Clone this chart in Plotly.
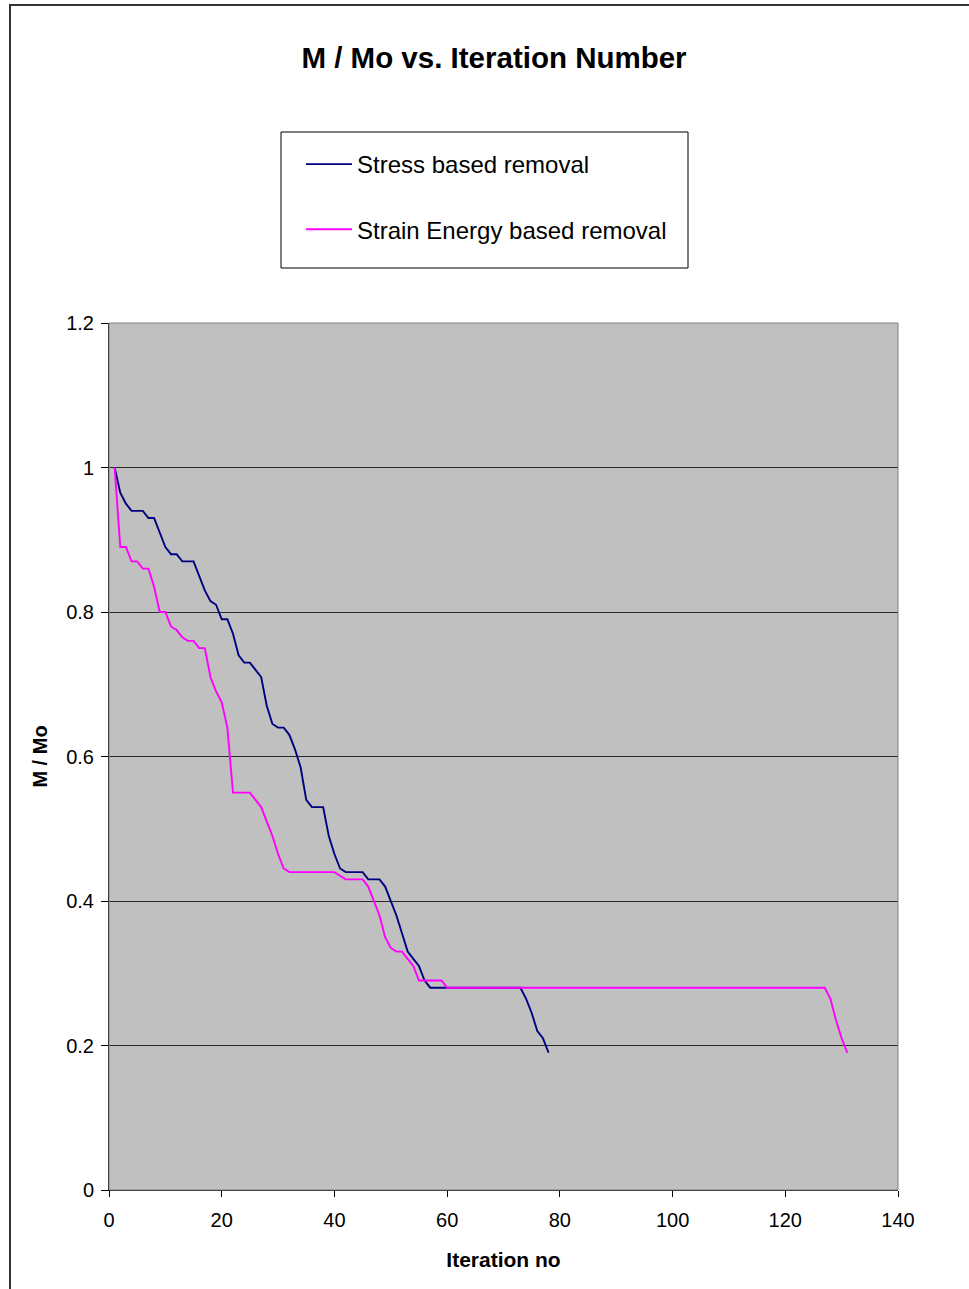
import plotly.graph_objects as go

iterations_stress = list(range(1, 79))
stress_values = [
    1.00, 0.965, 0.95, 0.94, 0.94, 0.94, 0.93, 0.93, 0.91, 0.89,
    0.88, 0.88, 0.87, 0.87, 0.87, 0.85, 0.83, 0.815, 0.81, 0.79,
    0.79, 0.77, 0.74, 0.73, 0.73, 0.72, 0.71, 0.67, 0.645, 0.64,
    0.64, 0.63, 0.61, 0.585, 0.54, 0.53, 0.53, 0.53, 0.49, 0.465,
    0.445, 0.44, 0.44, 0.44, 0.44, 0.43, 0.43, 0.43, 0.42, 0.40,
    0.38, 0.355, 0.33, 0.32, 0.31, 0.29, 0.28, 0.28, 0.28, 0.28,
    0.28, 0.28, 0.28, 0.28, 0.28, 0.28, 0.28, 0.28, 0.28, 0.28,
    0.28, 0.28, 0.28, 0.265, 0.245, 0.22, 0.21, 0.19,
]

iterations_strain = list(range(1, 132))
strain_values = (
    [1.00, 0.89, 0.89, 0.87, 0.87, 0.86, 0.86, 0.835, 0.80, 0.80,
     0.78, 0.775, 0.765, 0.76, 0.76, 0.75, 0.75, 0.71, 0.69, 0.675,
     0.64, 0.55, 0.55, 0.55, 0.55, 0.54, 0.53, 0.51, 0.49, 0.465,
     0.445, 0.44, 0.44, 0.44, 0.44, 0.44, 0.44, 0.44, 0.44, 0.44,
     0.435, 0.43, 0.43, 0.43, 0.43, 0.42, 0.40, 0.38, 0.35, 0.335,
     0.33, 0.33, 0.32, 0.31, 0.29, 0.29, 0.29, 0.29, 0.29]
    + [0.28] * 68
    + [0.265, 0.235, 0.21, 0.19]
)

x_ticks = [0, 20, 40, 60, 80, 100, 120, 140]
y_ticks = [0, 0.2, 0.4, 0.6, 0.8, 1.0, 1.2]
y_tick_text = ["0", "0.2", "0.4", "0.6", "0.8", "1", "1.2"]

W, H = 969, 1289
L, R, T, B = 109, 898, 323, 1190

def px(xp):
    return (xp - L) / (R - L)

def py(yp):
    return (B - yp) / (B - T)

fig = go.Figure()
fig.add_trace(go.Scatter(
    x=iterations_stress, y=stress_values, mode="lines",
    name="Stress based removal", legendgroup="a",
    line=dict(color="#000080", width=1.9),
))
fig.add_trace(go.Scatter(
    x=iterations_strain, y=strain_values, mode="lines",
    name="Strain Energy based removal", legendgroup="b",
    line=dict(color="#FF00FF", width=1.9),
))

font_main = "Arial, Liberation Sans, sans-serif"

fig.update_layout(
    width=W, height=H,
    margin=dict(l=L, r=W - R, t=T, b=H - B, pad=0),
    paper_bgcolor="white",
    plot_bgcolor="#C0C0C0",
    font=dict(family=font_main, color="black", size=20),
    title=dict(
        text="<b>M / Mo vs. Iteration Number</b>",
        x=494 / W, xanchor="center",
        y=1 - 58 / H, yanchor="middle", yref="container",
        font=dict(size=29.5, family=font_main, color="black"),
    ),
    showlegend=True,
    legend=dict(
        x=px(301), y=py(142), xanchor="left", yanchor="top",
        bgcolor="rgba(0,0,0,0)", borderwidth=0,
        font=dict(size=24, family=font_main, color="black"),
        itemwidth=46, tracegroupgap=31, traceorder="grouped",
    ),
    shapes=[
        dict(type="rect", xref="paper", yref="paper",
             x0=px(281), x1=px(688), y0=py(268), y1=py(132),
             line=dict(color="black", width=1), fillcolor="white", layer="below"),
        dict(type="rect", xref="paper", yref="paper",
             x0=px(10), x1=px(975), y0=py(1295), y1=py(5),
             line=dict(color="#333333", width=2), fillcolor="rgba(0,0,0,0)", layer="below"),
        dict(type="rect", xref="paper", yref="paper",
             x0=0, x1=1, y0=0, y1=1,
             line=dict(color="#808080", width=1), fillcolor="rgba(0,0,0,0)", layer="above"),
    ],
)

fig.update_xaxes(
    range=[0, 140], tickvals=x_ticks, ticks="outside", ticklen=6,
    tickcolor="black", showline=True, linecolor="black", linewidth=1,
    showgrid=False, zeroline=False, ticklabelstandoff=6,
    tickfont=dict(size=20, family=font_main),
    title=dict(text="<b>Iteration no</b>", font=dict(size=21, family=font_main), standoff=22),
)
fig.update_yaxes(
    range=[0, 1.2], tickvals=y_ticks, ticktext=y_tick_text, ticks="outside", ticklen=7,
    tickcolor="black", showline=True, linecolor="black", linewidth=1,
    showgrid=True, gridcolor="#2a2a2a", gridwidth=1, zeroline=False, ticklabelstandoff=3,
    tickfont=dict(size=20, family=font_main),
    title=dict(text="<b>M / Mo</b>", font=dict(size=20, family=font_main), standoff=13),
)

fig.write_html("out.html")
